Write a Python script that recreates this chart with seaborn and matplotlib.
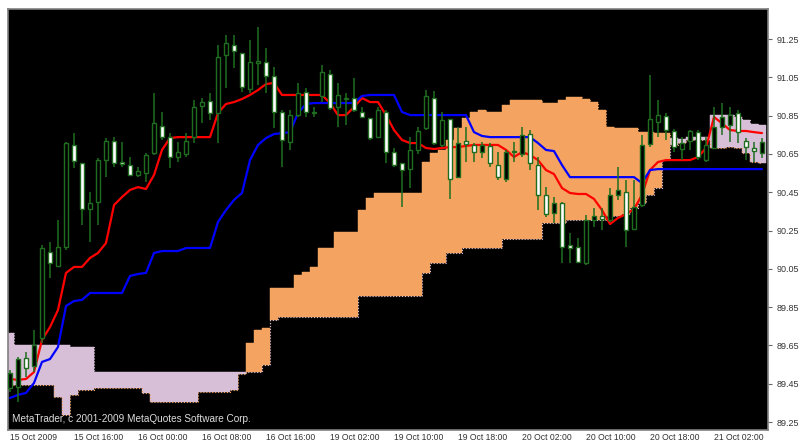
import numpy as np
import pandas as pd
import matplotlib
matplotlib.use("Agg")
import matplotlib.pyplot as plt
import seaborn as sns

# USDJPY-like H1 bars
opens = [89.428, 89.433, 89.584, 89.543, 89.689, 90.139, 90.065, 90.164, 90.697, 90.602,
         90.362, 90.399, 90.618, 90.718, 90.608, 90.592, 90.540, 90.551, 90.655, 90.796,
         90.738, 90.634, 90.650, 90.738, 90.900, 90.926, 90.864, 91.167, 91.219, 91.177,
         90.989, 91.125, 91.130, 91.057, 90.869, 90.712, 90.853, 90.974, 90.864, 90.953,
         91.067, 90.895, 90.937, 90.942, 90.869, 90.838, 90.738, 90.869, 90.660, 90.602,
         90.572, 90.671, 90.786, 90.942, 90.697, 90.833, 90.529, 90.718, 90.697, 90.660,
         90.692, 90.592, 90.519, 90.660, 90.650, 90.754, 90.592, 90.436, 90.342, 90.394,
         90.175, 90.164, 90.080, 90.305, 90.326, 90.305, 90.436, 90.451, 90.258, 90.384,
         90.702, 90.817, 90.848, 90.770, 90.676, 90.718, 90.764, 90.618, 90.681, 90.791,
         90.801, 90.864, 90.718, 90.681, 90.655]
highs = [89.522, 89.589, 89.616, 89.731, 90.175, 90.191, 90.305, 90.712, 90.759, 90.602,
         90.451, 90.629, 90.733, 90.738, 90.712, 90.634, 90.582, 90.655, 90.968, 90.869,
         90.759, 90.712, 90.759, 90.932, 90.942, 90.968, 91.219, 91.271, 91.271, 91.177,
         91.245, 91.313, 91.203, 91.104, 90.880, 90.880, 91.021, 90.994, 90.895, 91.114,
         91.088, 91.021, 90.968, 91.047, 90.895, 90.838, 90.895, 90.880, 90.681, 90.602,
         90.738, 90.791, 90.984, 90.979, 90.869, 90.833, 90.791, 90.791, 90.707, 90.712,
         90.707, 90.660, 90.671, 90.712, 90.791, 90.775, 90.634, 90.477, 90.425, 90.399,
         90.237, 90.211, 90.331, 90.368, 90.368, 90.472, 90.582, 90.514, 90.514, 90.749,
         91.062, 90.932, 90.864, 90.780, 90.738, 90.775, 90.775, 90.738, 90.895, 90.916,
         90.895, 90.880, 90.733, 90.712, 90.733]
lows = [89.408, 89.355, 89.485, 89.511, 89.663, 90.002, 90.060, 90.149, 90.577, 90.279,
        90.191, 90.279, 90.529, 90.582, 90.582, 90.540, 90.529, 90.503, 90.645, 90.723,
        90.577, 90.608, 90.634, 90.707, 90.812, 90.827, 90.707, 90.994, 91.099, 90.974,
        90.968, 91.010, 90.968, 90.786, 90.582, 90.671, 90.843, 90.843, 90.843, 90.921,
        90.880, 90.791, 90.801, 90.869, 90.838, 90.723, 90.733, 90.602, 90.582, 90.373,
        90.472, 90.650, 90.775, 90.697, 90.686, 90.415, 90.529, 90.608, 90.608, 90.629,
        90.582, 90.514, 90.503, 90.608, 90.634, 90.566, 90.357, 90.321, 90.290, 90.080,
        90.080, 90.080, 90.070, 90.269, 90.253, 90.295, 90.410, 90.164, 90.253, 90.373,
        90.686, 90.738, 90.723, 90.660, 90.618, 90.671, 90.618, 90.608, 90.681, 90.749,
        90.712, 90.707, 90.618, 90.608, 90.629]
closes = [89.506, 89.579, 89.532, 89.653, 90.159, 90.080, 90.164, 90.707, 90.613, 90.362,
          90.394, 90.618, 90.718, 90.602, 90.597, 90.540, 90.561, 90.645, 90.812, 90.738,
          90.634, 90.660, 90.718, 90.895, 90.921, 90.864, 91.156, 91.230, 91.188, 91.000,
          91.130, 91.135, 91.057, 90.869, 90.723, 90.853, 90.968, 90.869, 90.869, 91.078,
          90.890, 90.958, 90.942, 90.880, 90.843, 90.733, 90.880, 90.660, 90.592, 90.566,
          90.671, 90.770, 90.953, 90.707, 90.827, 90.519, 90.707, 90.702, 90.660, 90.697,
          90.602, 90.529, 90.660, 90.665, 90.749, 90.602, 90.436, 90.336, 90.394, 90.164,
          90.159, 90.086, 90.305, 90.326, 90.310, 90.436, 90.462, 90.253, 90.373, 90.697,
          90.833, 90.853, 90.775, 90.686, 90.707, 90.770, 90.634, 90.697, 90.791, 90.843,
          90.853, 90.764, 90.686, 90.665, 90.712]

tenkan = [89.475, 89.470, 89.475, 89.511, 89.679, 89.746, 89.835, 90.029, 90.060, 90.060,
          90.107, 90.133, 90.185, 90.383, 90.425, 90.462, 90.477, 90.467, 90.540, 90.671,
          90.733, 90.738, 90.738, 90.738, 90.738, 90.738, 90.864, 90.911, 90.921, 90.937,
          90.958, 90.984, 91.015, 91.021, 90.958, 90.958, 90.958, 90.958, 90.958, 90.958,
          90.916, 90.853, 90.853, 90.895, 90.942, 90.921, 90.921, 90.853, 90.775, 90.723,
          90.707, 90.707, 90.681, 90.676, 90.681, 90.686, 90.686, 90.692, 90.697, 90.697,
          90.697, 90.697, 90.671, 90.634, 90.660, 90.645, 90.618, 90.566, 90.545, 90.472,
          90.446, 90.441, 90.441, 90.415, 90.357, 90.284, 90.316, 90.336, 90.362, 90.436,
          90.566, 90.608, 90.618, 90.618, 90.618, 90.618, 90.634, 90.681, 90.843, 90.810,
          90.775, 90.770, 90.770, 90.764, 90.759]
kijun = [89.376, 89.392, 89.402, 89.454, 89.564, 89.579, 89.642, 89.856, 89.882, 89.888,
         89.924, 89.924, 89.924, 89.924, 89.924, 90.013, 90.023, 90.029, 90.133, 90.143,
         90.143, 90.143, 90.159, 90.159, 90.159, 90.159, 90.295, 90.357, 90.410, 90.446,
         90.618, 90.697, 90.733, 90.754, 90.759, 90.764, 90.864, 90.911, 90.916, 90.916,
         90.916, 90.916, 90.916, 90.916, 90.953, 90.958, 90.958, 90.958, 90.958, 90.869,
         90.853, 90.853, 90.853, 90.853, 90.853, 90.853, 90.853, 90.853, 90.764, 90.744,
         90.738, 90.738, 90.738, 90.738, 90.738, 90.738, 90.707, 90.671, 90.665, 90.592,
         90.529, 90.529, 90.529, 90.529, 90.529, 90.529, 90.529, 90.529, 90.529, 90.498,
         90.566, 90.571, 90.571, 90.571, 90.571, 90.571, 90.571, 90.571, 90.571, 90.571,
         90.571, 90.571, 90.571, 90.571, 90.571]
span_a = [89.444, 89.444, 89.444, 89.444, 89.444, 89.444, 89.381, 89.287, 89.392, 89.418,
          89.418, 89.428, 89.428, 89.428, 89.428, 89.428, 89.428, 89.402, 89.355, 89.355,
          89.355, 89.355, 89.355, 89.355, 89.407, 89.407, 89.407, 89.407, 89.418, 89.501,
          89.663, 89.731, 89.741, 89.950, 89.950, 89.950, 90.018, 90.034, 90.060, 90.159,
          90.159, 90.243, 90.243, 90.243, 90.357, 90.420, 90.446, 90.446, 90.446, 90.446,
          90.446, 90.446, 90.608, 90.655, 90.671, 90.723, 90.786, 90.838, 90.869, 90.880,
          90.869, 90.869, 90.906, 90.932, 90.932, 90.932, 90.932, 90.916, 90.916, 90.932,
          90.947, 90.947, 90.937, 90.921, 90.880, 90.791, 90.786, 90.786, 90.786, 90.765,
          90.765, 90.759, 90.759, 90.697, 90.707, 90.723, 90.723, 90.723, 90.681, 90.681,
          90.686, 90.681, 90.655, 90.608, 90.603]
span_b = [89.715, 89.653, 89.653, 89.653, 89.653, 89.653, 89.653, 89.653, 89.642, 89.642,
          89.642, 89.511, 89.511, 89.511, 89.511, 89.511, 89.511, 89.511, 89.511, 89.511,
          89.511, 89.511, 89.511, 89.511, 89.511, 89.511, 89.511, 89.511, 89.511, 89.511,
          89.511, 89.511, 89.548, 89.783, 89.799, 89.799, 89.799, 89.799, 89.799, 89.799,
          89.799, 89.799, 89.799, 89.799, 89.908, 89.908, 89.908, 89.908, 89.908, 89.908,
          89.908, 89.908, 90.029, 90.081, 90.081, 90.133, 90.133, 90.159, 90.159, 90.159,
          90.159, 90.159, 90.206, 90.206, 90.206, 90.206, 90.206, 90.290, 90.290, 90.290,
          90.305, 90.305, 90.305, 90.305, 90.305, 90.326, 90.326, 90.336, 90.368, 90.394,
          90.436, 90.472, 90.618, 90.733, 90.728, 90.738, 90.738, 90.738, 90.853, 90.853,
          90.853, 90.842, 90.827, 90.807, 90.801]

time_labels = ["15 Oct 2009", "15 Oct 16:00", "16 Oct 00:00", "16 Oct 08:00",
               "16 Oct 16:00", "19 Oct 02:00", "19 Oct 10:00", "19 Oct 18:00",
               "20 Oct 02:00", "20 Oct 10:00", "20 Oct 18:00", "21 Oct 02:00"]
price_ticks = [89.25, 89.45, 89.65, 89.85, 90.05, 90.25, 90.45, 90.65, 90.85, 91.05, 91.25]

sns.set_style("dark")
plt.rcParams["font.family"] = ["Liberation Sans", "DejaVu Sans"]

df = pd.DataFrame({"open": opens, "high": highs, "low": lows, "close": closes,
                   "tenkan": tenkan, "kijun": kijun, "span_a": span_a, "span_b": span_b})
df["bar"] = np.arange(len(df))

fig = plt.figure(figsize=(8.03, 4.43), dpi=100, facecolor="white")
ax = fig.add_axes([8 / 803, 13 / 443, 760 / 803, 421 / 443])
ax.set_facecolor("black")
ax.grid(False)

# kumo (cloud): sandy brown when span A on top, thistle otherwise
bull_cloud = df.span_a >= df.span_b
cloud_col = np.where(bull_cloud, "#f4a460", "#d8bfd8")
ax.bar(df.bar, (df.span_a - df.span_b).abs(), bottom=np.minimum(df.span_a, df.span_b),
       width=1.0, color=cloud_col, edgecolor=cloud_col, linewidth=0.3, zorder=1)
ax.step(df.bar, df.span_a, where="mid", color="#f4a460", ls=":", lw=0.8, zorder=2)
ax.step(df.bar, df.span_b, where="mid", color="#d8bfd8", ls=":", lw=0.8, zorder=2)

# tenkan / kijun
sns.lineplot(data=df, x="bar", y="tenkan", color="#ff0000", lw=1.6, ax=ax, zorder=3)
sns.lineplot(data=df, x="bar", y="kijun", color="#0000ff", lw=1.6, ax=ax, zorder=3)

# candles (MT4 green-on-black: bull body black, bear body white)
green = "#1f6e1f"
ax.vlines(df.bar, df.low, df.high, color=green, lw=1.1, zorder=4)
body_col = np.where(df.close >= df.open, "black", "white")
ax.bar(df.bar, (df.close - df.open).abs(), bottom=np.minimum(df.open, df.close),
       width=0.5, color=body_col, edgecolor=green, linewidth=1.0, zorder=5)

ax.set_xlim(-0.25, 94.75)
ax.set_ylim(89.2085, 91.407)
ax.set_xlabel("")
ax.set_ylabel("")

ax.set_xticks(df.bar[::8])
ax.set_xticklabels(time_labels, ha="left")
ax.yaxis.tick_right()
ax.set_yticks(price_ticks)
ax.set_yticklabels([f"{p:.2f}" for p in price_ticks], ha="left")
ax.tick_params(axis="both", direction="out", length=3, width=0.8, color="#666666",
               labelcolor="#333333", labelsize=6.5)
ax.tick_params(axis="x", length=2, pad=0.5, labelsize=6.2)
ax.tick_params(axis="y", pad=3)

for s in ax.spines.values():
    s.set_visible(True)
    s.set_color("#808080")
    s.set_linewidth(1.2)

ax.text(0.005, 0.014, "MetaTrader, c 2001-2009 MetaQuotes Software Corp.",
        transform=ax.transAxes, color="#dddddd", fontsize=7.2, va="bottom", ha="left", zorder=6)

fig.savefig("out.png", dpi=100, facecolor="white")
